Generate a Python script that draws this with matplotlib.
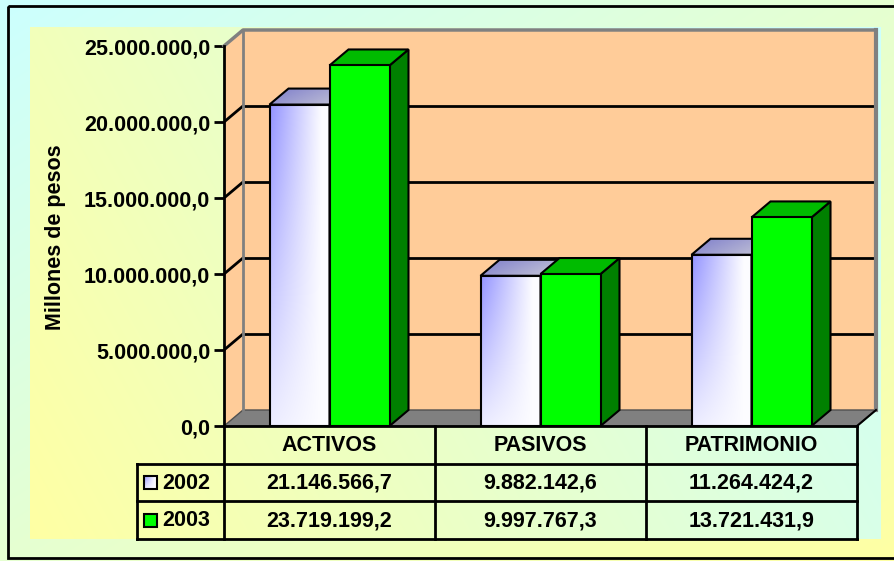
import numpy as np
import matplotlib
matplotlib.use("Agg")
import matplotlib.pyplot as plt
from matplotlib.patches import Polygon, Rectangle
from matplotlib.ticker import FuncFormatter, FixedLocator

# ---------------- data ----------------
categories = ["ACTIVOS", "PASIVOS", "PATRIMONIO"]
series_names = ["2002", "2003"]
values_2002 = [21146566.7, 9882142.6, 11264424.2]
values_2003 = [23719199.2, 9997767.3, 13721431.9]
y_ticks = [0, 5e6, 10e6, 15e6, 20e6, 25e6]
y_label = "Millones de pesos"


def fmt_es(v, decimals=1):
    s = f"{v:,.{decimals}f}"
    return s.replace(",", "X").replace(".", ",").replace("X", ".")


plt.rcParams['font.family'] = ['Liberation Sans', 'DejaVu Sans']
FS = 15.5

W, H = 894, 561
fig = plt.figure(figsize=(W / 100, H / 100), dpi=100)

# ---------------- background ----------------
bg = fig.add_axes([0, 0, 1, 1], zorder=-10)
bg.set_xlim(0, W)
bg.set_ylim(H, 0)
bg.axis('off')
yy, xx = np.mgrid[0:H, 0:W]
cyan = np.array([0.80, 1.0, 1.0])
yellow = np.array([1.0, 1.0, 0.64])
t = np.clip(xx / W * 0.5 + yy / H * 0.5, 0, 1)[..., None]
img = cyan * (1 - t) + yellow * t
x0, x1, y0, y1 = 30, 881, 27, 539
inner = (xx >= x0) & (xx < x1) & (yy >= y0) & (yy < y1)
ti = np.clip(((xx - x0) / (x1 - x0)) * 0.75 + ((y1 - yy) / (y1 - y0)) * 0.25, 0, 1)[..., None]
img_in = yellow * (1 - ti) + cyan * ti
img = np.where(inner[..., None], img_in, img)
bg.imshow(img, extent=[0, W, H, 0], aspect='auto', interpolation='bilinear')
bg.add_patch(Rectangle((8, 6), W + 10, 552, fill=False, lw=2, ec='black'))

# ---------------- main 3D axes ----------------
PX = 211.0             # px per category
PV = 380.0 / 25e6      # px per value unit
L, R, T, B = 224, 876, 30, 426
ax = fig.add_axes([L / W, (H - B) / H, (R - L) / W, (B - T) / H])
xmin = -0.5
xmax = -0.5 + (R - L) / PX
DX = 19 / PX
DY = 16 / PV
ytop = 25e6
ax.patch.set_alpha(0)

peach = '#ffcc99'
gray = '#808080'

# walls and floor
back = Rectangle((xmin + DX, DY), xmax - (xmin + DX), ytop, fc=peach, ec='none', zorder=1)
ax.add_patch(back)
left_wall = Polygon([(xmin, 0), (xmin + DX, DY), (xmin + DX, ytop + DY), (xmin, ytop)],
                    closed=True, fc=peach, ec='none', zorder=1)
ax.add_patch(left_wall)
floor = Polygon([(xmin, 0), (xmin + DX, DY), (xmax, DY), (xmax - DX, 0)],
                closed=True, fc=gray, ec='#505050', lw=1, zorder=1)
ax.add_patch(floor)

# gridlines
for tv in y_ticks[1:-1]:
    ax.plot([xmin + DX, xmax], [tv + DY, tv + DY], color='black', lw=2, zorder=1.5,
            solid_capstyle='butt')
    ax.plot([xmin, xmin + DX], [tv, tv + DY], color='black', lw=2, zorder=1.5)
# wall edges
ax.plot([xmin, xmin + DX, xmax], [ytop, ytop + DY, ytop + DY], color=gray, lw=2.5,
        zorder=1.6, clip_on=False)
ax.plot([xmin + DX, xmin + DX], [DY, ytop + DY], color=gray, lw=2, zorder=1.6)
ax.plot([xmax, xmax], [DY, ytop + DY], color=gray, lw=3, zorder=1.6, clip_on=False)
ax.plot([xmax - DX, xmax], [0, DY], color='black', lw=1.5, zorder=1.6, clip_on=False)


def grad_front(nx=60, ny=120):
    xf = np.linspace(0, 1, nx)[None, :]
    yf = np.linspace(0, 1, ny)[:, None]
    s = np.clip((1 - xf * 1.15) * (0.15 + 0.85 * yf), 0, 1)[..., None]
    blue = np.array([0.58, 0.58, 1.0])
    white = np.array([0.99, 0.99, 1.0])
    return white * (1 - s) + blue * s


def grad_top(nx=60, ny=10):
    xf = np.linspace(0, 1, nx)[None, :, None]
    yf = np.linspace(0, 1, ny)[:, None, None]
    c0 = np.array([0.50, 0.50, 0.80])
    c1 = np.array([0.78, 0.78, 0.84])
    s = np.clip(xf * 0.7 + (1 - yf) * 0.3, 0, 1)
    return c0 * (1 - s) + c1 * s


w = 60 / PX
z = 3.0
for i, cat in enumerate(categories):
    for k, (vals, name) in enumerate([(values_2002, series_names[0]), (values_2003, series_names[1])]):
        v = vals[i]
        x = i - w + k * w
        front = Rectangle((x, 0), w, v)
        top = Polygon([(x, v), (x + DX, v + DY), (x + w + DX, v + DY), (x + w, v)], closed=True)
        side = Polygon([(x + w, 0), (x + w + DX, DY), (x + w + DX, v + DY), (x + w, v)], closed=True)
        if k == 0:
            for p in (side, top, front):
                p.set_facecolor('none')
                p.set_edgecolor('black')
                p.set_linewidth(1.5)
                p.set_zorder(z + 0.05)
            side.set_facecolor('#b0b0d0')
            ax.add_patch(side)
            ax.add_patch(top)
            ax.add_patch(front)
            im = ax.imshow(grad_front(), extent=[x, x + w, 0, v], origin='lower',
                           aspect='auto', zorder=z, interpolation='bilinear')
            im.set_clip_path(front)
            im2 = ax.imshow(grad_top(), extent=[x, x + w + DX, v, v + DY], origin='lower',
                            aspect='auto', zorder=z, interpolation='bilinear')
            im2.set_clip_path(top)
        else:
            side.set(fc='#008000', ec='black', lw=1.5, zorder=z)
            top.set(fc='#00bb00', ec='black', lw=1.5, zorder=z)
            front.set(fc='#00ff00', ec='black', lw=1.5, zorder=z)
            ax.add_patch(side)
            ax.add_patch(top)
            ax.add_patch(front)
        z += 0.2

ax.set_xlim(xmin, xmax)
ax.set_ylim(0, ytop + DY)
for s in ('top', 'right', 'bottom'):
    ax.spines[s].set_visible(False)
ax.spines['left'].set_bounds(0, ytop)
ax.spines['left'].set_linewidth(2)
ax.spines['left'].set_zorder(10)
ax.set_xticks([])
ax.yaxis.set_major_locator(FixedLocator(y_ticks))
ax.yaxis.set_major_formatter(FuncFormatter(lambda v, p: fmt_es(v)))
ax.tick_params(axis='y', direction='out', length=7, width=2, pad=3, labelsize=FS)
for lab in ax.get_yticklabels():
    lab.set_fontweight('bold')

fig.text(55 / W, 1 - 237 / H, y_label, rotation=90, ha='center', va='center',
         fontsize=FS, fontweight='bold')

# ---------------- data table ----------------
TL, TB = 137, 539
tax = fig.add_axes([TL / W, (H - TB) / H, (R - TL) / W, (TB - B) / H])
xl = -0.5 + (TL - L) / PX
tax.set_xlim(xl, xmax)
tax.set_ylim(3, 0)
tax.axis('off')
tax.patch.set_alpha(0)
lk = dict(color='black', lw=2, clip_on=False, solid_capstyle='projecting')
tax.plot([-0.5, 2.5], [0, 0], **lk)
for xv in [-0.5, 0.5, 1.5, 2.5]:
    tax.plot([xv, xv], [0, 3], **lk)
for yv in [1, 2, 3]:
    tax.plot([xl, 2.5], [yv, yv], **lk)
tax.plot([xl, xl], [1, 3], **lk)

for i, cat in enumerate(categories):
    tax.text(i, 0.52, cat, ha='center', va='center', fontsize=FS, fontweight='bold')
    tax.text(i, 1.52, fmt_es(values_2002[i]), ha='center', va='center', fontsize=FS, fontweight='bold')
    tax.text(i, 2.52, fmt_es(values_2003[i]), ha='center', va='center', fontsize=FS, fontweight='bold')

rowpx = (TB - B) / 3
sw = 13 / PX
sh = 13 / rowpx
sx = xl + (144 - TL) / PX
for r, name in enumerate(series_names):
    yc = r + 1.5
    sq = Rectangle((sx, yc - sh / 2), sw, sh, fc='none', ec='black', lw=1.5, zorder=3)
    tax.add_patch(sq)
    if r == 0:
        im = tax.imshow(grad_front(20, 20), extent=[sx, sx + sw, yc + sh / 2, yc - sh / 2],
                        origin='lower', aspect='auto', zorder=2, interpolation='bilinear')
        im.set_clip_path(sq)
    else:
        sq.set_facecolor('#00ff00')
    tax.text(xl + (162 - TL) / PX, yc + 0.02, name, ha='left', va='center',
             fontsize=FS, fontweight='bold')
tax.set_xlim(xl, xmax)
tax.set_ylim(3, 0)

fig.savefig('out.png', dpi=100)
